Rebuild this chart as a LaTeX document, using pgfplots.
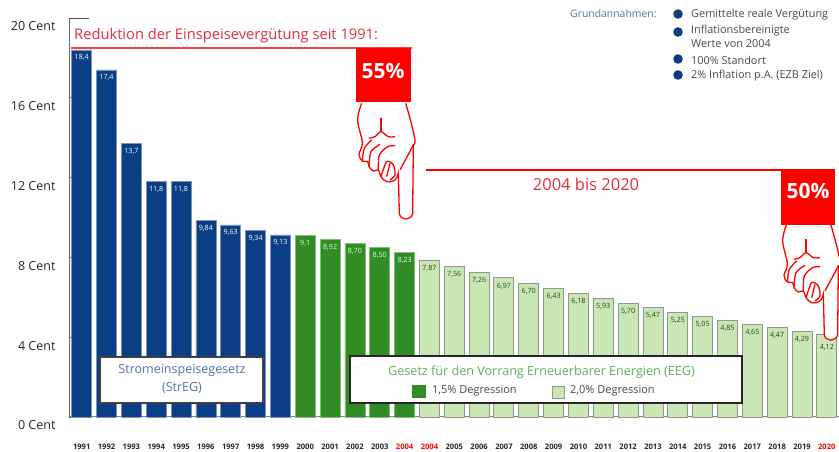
\documentclass[border=0pt]{standalone}
\usepackage{fontspec}
\setmainfont{Open Sans}
\usepackage{pgfplots}
\pgfplotsset{compat=1.18}
\usepackage{pgfplotstable}
\definecolor{cblue}{HTML}{0B3F85}
\definecolor{cgreen}{HTML}{328C26}
\definecolor{clight}{HTML}{C9E7B5}
\definecolor{cedge}{HTML}{8F9A8C}
\definecolor{cred}{HTML}{E0303C}
\definecolor{cbox}{HTML}{FF0000}
\definecolor{ctxtblue}{HTML}{5571A8}
\definecolor{ctxtgreen}{HTML}{62AB62}
\definecolor{cgrey}{HTML}{4A4A4A}
\definecolor{clabel}{HTML}{1F4A1F}
\pgfplotstableread{
x y l
0 18.4 18,4
1 17.4 17,4
2 13.7 13,7
3 11.8 11,8
4 11.8 11,8
5 9.84 9,84
6 9.63 9,63
7 9.34 9,34
8 9.13 9,13
}\tblue
\pgfplotstableread{
x y l
9 9.1 9,1
10 8.92 8,92
11 8.70 8,70
12 8.50 8,50
13 8.23 8,23
}\tgreen
\pgfplotstableread{
x y l
14 7.87 7,87
15 7.56 7,56
16 7.26 7,26
17 6.97 6,97
18 6.70 6,70
19 6.43 6,43
20 6.18 6,18
21 5.93 5,93
22 5.70 5,70
23 5.47 5,47
24 5.25 5,25
25 5.05 5,05
26 4.85 4,85
27 4.65 4,65
28 4.47 4,47
29 4.29 4,29
}\tlight
\pgfplotstableread{
x y l
30 4.12 4,12
}\tlast
\newcommand{\handpath}[1]{%
\begin{scope}[shift={#1},x=0.3333pt,y=-0.3333pt,line width=1.3pt,draw=red]
 \draw[fill=white] plot[smooth,tension=0.6] coordinates {(50,25) (38,75) (52,143) (42,178) (52,198) (68,200) (72,215) (85,228) (100,225) (108,245) (125,260) (150,255) (160,235)}
   -- (163,355) .. controls (165,378) and (200,378) .. (203,355) -- (205,150)
   plot[smooth,tension=0.6] coordinates {(205,150) (210,135) (195,70) (182,25)};
 \draw (108,70) -- (108,110);
 \draw plot[smooth] coordinates {(72,130) (90,125) (108,110) (130,125) (150,125)};
 \draw plot[smooth] coordinates {(52,198) (58,160) (80,135)};
 \draw plot[smooth] coordinates {(72,215) (78,170) (105,148)};
 \draw plot[smooth] coordinates {(100,225) (103,180) (128,155) (150,152)};
 \draw plot[smooth] coordinates {(108,245) (125,200) (145,210) (150,240) (135,255)};
 \draw plot[smooth] coordinates {(125,245) (135,205)};
 \draw (205,150) -- (165,225);
\end{scope}}
\begin{document}
\begin{tikzpicture}[x=1pt,y=1pt]
\path[use as bounding box] (0,0) rectangle (839,452);
\begin{axis}[
  at={(69pt,35pt)},anchor=south west,scale only axis,
  width=770pt,height=399pt,
  xmin=-0.511,xmax=30.49,ymin=0,ymax=20,
  axis lines=left,axis line style={draw=gray!85!black,line width=1pt,-},
  x axis line style={draw=gray,line width=1pt,-},
  ytick={0,4,8,12,16,20},
  yticklabels={0 Cent,4 Cent,8 Cent,12 Cent,16 Cent,20 Cent},
  yticklabel style={yshift=-8.5pt,xshift=-10pt,font=\fontsize{12.5}{13}\selectfont,text=black!85},
  y tick style={draw=black!70,line width=0.6pt},
  tick align=inside,major tick length=3pt,
  xtick={0,...,30},
  xticklabels={1991,1992,1993,1994,1995,1996,1997,1998,1999,2000,2001,2002,2003,\textcolor{red}{2004},\textcolor{red}{2004},2005,2006,2007,2008,2009,2010,2011,2012,2013,2014,2015,2016,2017,2018,2019,\textcolor{red}{2020}},
  xticklabel style={font=\fontsize{7.6}{8}\selectfont\bfseries,yshift=-30pt,text=black!85,anchor=center,inner sep=0pt},
  x tick style={draw=none},
  clip=false,
  point meta=explicit symbolic,
  every axis plot/.append style={ybar,bar width=20pt,bar shift=0pt},
  nodes near coords,
  every node near coord/.append style={anchor=north,font=\fontsize{7.2}{8}\selectfont,inner sep=0pt,yshift=-4.5pt},
]
\addplot[fill=cblue,draw=cblue!55!white,line width=0.7pt,nodes near coords style={text=white}] table[x=x,y=y,meta=l] {\tblue};
\addplot[fill=cgreen,draw=cgreen!60!white,line width=0.7pt,nodes near coords style={text=white!85!green}] table[x=x,y=y,meta=l] {\tgreen};
\addplot[fill=clight,draw=cedge,line width=0.9pt,nodes near coords style={text=clabel}] table[x=x,y=y,meta=l] {\tlight};
\addplot[fill=clight,draw=cedge,line width=0.9pt,nodes near coords style={text=clabel,yshift=-5pt}] table[x=x,y=y,meta=l] {\tlast};
\end{axis}
\begin{scope}[shift={(0,452)},y=-1pt,x=1pt]
 \draw[black!70,line width=0.6pt] (69,18.5) -- (89,18.5);
 \node[anchor=west,inner sep=0pt,text=cred,font=\fontsize{14.7}{15}\selectfont] at (74,36) {Reduktion der Einspeisevergütung seit 1991:};
 \draw[red!75!white,line width=2pt] (71,48) -- (412,48);
 \fill[cbox] (356,48) rectangle (411,102);
 \node[text=white,font=\fontsize{21}{22}\selectfont\bfseries,inner sep=0pt] at (383,71) {55\%};
 \draw[red,line width=2.6pt] (426,170) -- (835,170);
 \fill[cbox] (781,170) rectangle (835,225);
 \node[text=white,font=\fontsize{21}{22}\selectfont\bfseries,inner sep=0pt] at (808,191) {50\%};
 \node[text=cred,font=\fontsize{16.5}{17}\selectfont,inner sep=0pt] at (586,184) {2004 bis 2020};
 \handpath{(345,95)}
 \handpath{(770,216)}
 \draw[fill=white,draw=black!75,line width=1.1pt] (100,357) rectangle (263,403);
 \node[text=ctxtblue,font=\fontsize{12.5}{13}\selectfont,inner sep=0pt] at (182,370) {Stromeinspeisegesetz};
 \node[text=ctxtblue,font=\fontsize{12.5}{13}\selectfont,inner sep=0pt] at (182,388) {(StrEG)};
 \draw[fill=white,draw=black!85,line width=1.6pt] (350,356) rectangle (742,403);
 \node[anchor=west,text=ctxtgreen,font=\fontsize{12.6}{13}\selectfont,inner sep=0pt] at (388,372) {Gesetz für den Vorrang Erneuerbarer Energien (EEG)};
 \fill[cgreen] (412,385) rectangle (426,398);
 \draw[fill=clight,draw=cedge,line width=0.8pt] (552,386) rectangle (564,398);
 \node[anchor=west,text=cgrey,font=\fontsize{11}{11}\selectfont,inner sep=0pt] at (432,391) {1,5\% Degression};
 \node[anchor=west,text=cgrey,font=\fontsize{11}{11}\selectfont,inner sep=0pt] at (570,391) {2,0\% Degression};
 \node[anchor=west,text=ctxtblue,font=\fontsize{10.4}{11}\selectfont,inner sep=0pt] at (570,14) {Grundannahmen:};
 \foreach \yy in {14,32,59,75} \fill[cblue] (678,\yy) circle (4.8);
 \foreach \yy/\tt in {15/Gemittelte reale Vergütung,31/Inflationsbereinigte,44/Werte von 2004,60/100\% Standort,76/2\% Inflation p.A. (EZB Ziel)}
   \node[anchor=west,text=cgrey,font=\fontsize{10.9}{11}\selectfont,inner sep=0pt] at (691,\yy) {\tt};
\end{scope}
\end{tikzpicture}
\end{document}
